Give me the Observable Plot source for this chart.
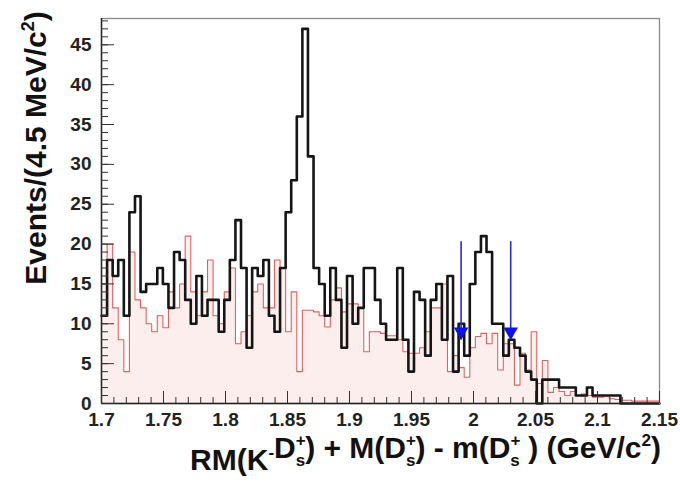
<!DOCTYPE html>
<html><head><meta charset="utf-8">
<script src="https://cdn.jsdelivr.net/npm/d3@7"></script>
<script src="https://cdn.jsdelivr.net/npm/@observablehq/plot@0.6"></script>
<style>body{margin:0;background:#fff}#chart{width:680px;height:484px}</style>
</head><body><div id="chart"></div>
<script>
// Histogram definition: 100 bins of 4.5 MeV from 1.70 to 2.15 GeV
const binStart = 1.7;
const binWidth = 0.0045;

// Data (black) counts per bin
const dataCounts = [
  11,18,16,18,11,24,26,14,15,15,
  17,15,12,19,18,13,10,16,11,13,
  13,9,13,18,23,17,7,17,16,18,
  11,9,17,24,28,36,47,31,17,15,
  11,17,13,7,16,10,12,17,17,13,
  10,8,8,17,8,4,14,13,6,13,
  15,8,16,4,10,6,15,19,21,19,
  10,10,6,8,7,6,4,3,0,3,
  3,3,2,2,2,1,1,2,1,1,
  1,1,1,0,0,0,0,0,0,0
];

// Background (red) per bin
const bkgCounts = [
  15,20,12,8,4,19,13,12,10,9,
  11,9.5,14,12,15,21,14,11,14,18,
  11,10,14,17,7.5,9,11,14,15,12,
  12,18,17,9,14,4,11.7,11.7,11.5,11,
  9.6,13,14.5,11.5,12.5,12.5,12,6.5,9,9,
  8.8,8.5,8.5,8,6.5,6.3,6.3,7,9,12,
  12,15,4,6,4.5,3.3,7,8.4,8.8,7.5,
  8.8,4.2,7.5,7.5,2.3,6.3,4.2,9,2.5,5.4,
  1.4,2,1.5,1,1.5,1,1.2,1,0.8,0.8,
  1,0.6,0.5,0.4,0.4,0.3,0.3,0.3,0.3,0.3
];

const xTickValues = [1.7,1.75,1.8,1.85,1.9,1.95,2,2.05,2.1,2.15];
const xTickLabels = ["1.7","1.75","1.8","1.85","1.9","1.95","2","2.05","2.1","2.15"];
const xMinorTicks = d3.range(0,46).map(i => +(1.7 + i*0.01).toFixed(2));
const yTickValues = [0,5,10,15,20,25,30,35,40,45];
const yTickLabels = ["0","5","10","15","20","25","30","35","40","45"];
const yMinorTicks = d3.range(0,49);

// Signal-region arrows
const arrowX = [1.99, 2.03];
const arrowTop = 20.3;
const arrowTip = 8;

function steps(counts) {
  const pts = counts.map((c, i) => ({x: binStart + i*binWidth, y: c}));
  pts.push({x: binStart + counts.length*binWidth, y: counts[counts.length-1]});
  return pts;
}
const dat = steps(dataCounts);
const bkg = steps(bkgCounts);

const font = "Liberation Sans, Arial, Helvetica, sans-serif";

const plot = Plot.plot({
  width: 680, height: 484,
  marginLeft: 101, marginRight: 21, marginTop: 18, marginBottom: 81,
  x: {domain: [1.7, 2.15], label: null},
  y: {domain: [0, 48.3], label: null},
  style: {fontFamily: font, background: "#fff", color: "#111"},
  marks: [
    Plot.areaY(bkg, {x: "x", y: "y", curve: "step-after", fill: "#fdeeee"}),
    Plot.lineY(bkg, {x: "x", y: "y", curve: "step-after", stroke: "#e06262", strokeWidth: 1.1}),
    Plot.lineY(dat, {x: "x", y: "y", curve: "step-after", stroke: "#151515", strokeWidth: 2.6}),
    Plot.ruleX(arrowX, {x: d => d, y1: arrowTop, y2: arrowTip, stroke: "#2b2bd6", strokeWidth: 1.6}),
    Plot.dot(arrowX, {x: d => d, y: arrowTip, symbol: "triangle", rotate: 180, r: 5.4, fill: "#1010e8", stroke: null, dy: -8}),
    Plot.frame({stroke: "#8a8a8a", strokeWidth: 1.3}),
    Plot.ruleY([0], {stroke: "#222", strokeWidth: 1.4}),
    Plot.ruleX([1.7], {stroke: "#222", strokeWidth: 1.4}),
    // inward ticks
    Plot.axisY({ticks: yMinorTicks, tickSize: 7, dx: 7, fill: "none", label: null, stroke: "#333"}),
    Plot.axisY({ticks: yTickValues, tickSize: 13, dx: 13, fill: "none", label: null, stroke: "#333"}),
    Plot.axisX({ticks: xMinorTicks, tickSize: 6, dy: -6, fill: "none", label: null, stroke: "#333"}),
    Plot.axisX({ticks: xTickValues, tickSize: 12, dy: -12, fill: "none", label: null, stroke: "#333"}),
    // tick labels
    Plot.axisY({ticks: yTickValues, tickSize: 0, tickPadding: 10, label: null,
      tickFormat: d => yTickLabels[yTickValues.indexOf(d)], fontSize: 19, fontWeight: "bold", fill: "#222"}),
    Plot.axisX({ticks: xTickValues, tickSize: 0, tickPadding: 9, label: null,
      tickFormat: d => xTickLabels[xTickValues.indexOf(d)], fontSize: 19, fontWeight: "bold", fill: "#222"})
  ]
});

const svg = d3.select(plot);
// Y title
const yt = svg.append("text")
  .attr("transform", "translate(46,148) rotate(-90)")
  .attr("text-anchor", "middle")
  .attr("font-family", font).attr("font-weight", "bold").attr("font-size", 30).attr("fill", "#111");
yt.append("tspan").text("Events/(4.5 MeV/c");
yt.append("tspan").attr("font-size", 18).attr("dy", -12).text("2");
yt.append("tspan").attr("dy", 12).text(")");

// X title with stacked sub/superscripts
const xt = svg.append("text")
  .attr("x", 661).attr("y", 470)
  .attr("text-anchor", "end")
  .attr("font-family", font).attr("font-weight", "bold").attr("font-size", 30).attr("fill", "#111");
function dsPlus(t) {
  t.append("tspan").text("D");
  t.append("tspan").attr("font-size", 17).attr("dy", -12).text("+");
  t.append("tspan").attr("font-size", 17).attr("dx", -10).attr("dy", 20).text("s");
  return t;
}
xt.append("tspan").text("RM(K");
xt.append("tspan").attr("font-size", 17).attr("dy", -12).text("-");
xt.append("tspan").attr("dy", 12).text("");
dsPlus(xt);
xt.append("tspan").attr("dy", -8).text(") + M(");
dsPlus(xt);
xt.append("tspan").attr("dy", -8).text(") - m(");
dsPlus(xt);
xt.append("tspan").attr("dy", -8).text(" ) (GeV/c");
xt.append("tspan").attr("font-size", 17).attr("dy", -12).text("2");
xt.append("tspan").attr("dy", 12).text(")");

document.getElementById("chart").appendChild(plot);
</script>
</body></html>
